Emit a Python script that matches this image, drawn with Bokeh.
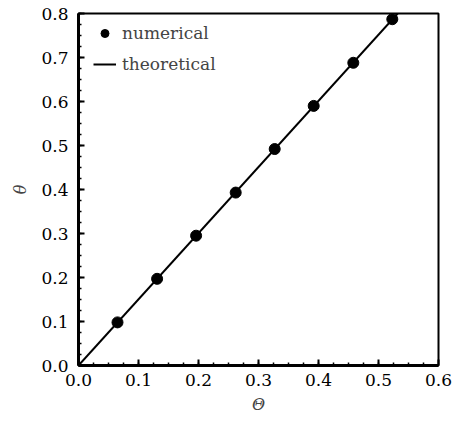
from bokeh.plotting import figure
from bokeh.models import Range1d, FixedTicker, Legend, LegendItem
from bokeh.embed import file_html
from bokeh.resources import INLINE

num_x = [0.065, 0.131, 0.196, 0.262, 0.327, 0.392, 0.458, 0.523]
num_y = [0.098, 0.197, 0.295, 0.393, 0.492, 0.590, 0.688, 0.787]
theo_x = [0.0, 0.532]
theo_y = [0.0, 0.8]
x_ticks = [0.0, 0.1, 0.2, 0.3, 0.4, 0.5, 0.6]
y_ticks = [0.0, 0.1, 0.2, 0.3, 0.4, 0.5, 0.6, 0.7, 0.8]

FONT = "DejaVu Serif"

p = figure(width=458, height=423, output_backend="svg", toolbar_location=None,
           x_range=Range1d(0, 0.6), y_range=Range1d(0, 0.8),
           min_border_left=78, min_border_right=20, min_border_top=13, min_border_bottom=58)
p.background_fill_color = "white"
p.border_fill_color = "white"
p.grid.visible = False
p.outline_line_color = "black"
p.outline_line_width = 2

for ax in (p.xaxis[0], p.yaxis[0]):
    ax.axis_line_width = 3
    ax.axis_line_color = "black"
    ax.major_tick_in = 6
    ax.major_tick_out = 0
    ax.minor_tick_in = 3
    ax.minor_tick_out = 0
    ax.major_tick_line_width = 2
    ax.minor_tick_line_width = 1.5
    ax.major_label_text_font = FONT
    ax.major_label_text_font_size = "17px"
    ax.major_label_text_color = "black"
    ax.axis_label_text_font = FONT
    ax.axis_label_text_font_style = "italic"
    ax.axis_label_text_font_size = "16px"

p.xaxis.ticker = FixedTicker(ticks=x_ticks, minor_ticks=[i * 0.025 for i in range(25)])
p.yaxis.ticker = FixedTicker(ticks=y_ticks, minor_ticks=[i * 0.025 for i in range(33)])
p.xaxis.major_label_overrides = {t: f"{t:.1f}" for t in x_ticks}
p.yaxis.major_label_overrides = {t: f"{t:.1f}" for t in y_ticks}
p.xaxis.axis_label = "Θ"
p.yaxis.axis_label = "θ"
p.xaxis.major_label_standoff = 8
p.yaxis.major_label_standoff = 10
p.xaxis.axis_label_standoff = 6
p.yaxis.axis_label_standoff = 8

ln = p.line(theo_x, theo_y, line_color="black", line_width=2)
sc = p.scatter(num_x, num_y, size=11, fill_color="black", line_color="black")

legend = Legend(items=[LegendItem(label="numerical", renderers=[sc]),
                       LegendItem(label="theoretical", renderers=[ln])],
                location=(15, 291))
legend.border_line_color = None
legend.background_fill_alpha = 0
legend.label_text_font = FONT
legend.label_text_font_size = "17px"
legend.glyph_width = 23
legend.glyph_height = 20
legend.label_height = 20
legend.spacing = 11
legend.padding = 0
legend.margin = 0
legend.label_standoff = 6
p.add_layout(legend)

open("out.html", "w").write(file_html(p, INLINE))
